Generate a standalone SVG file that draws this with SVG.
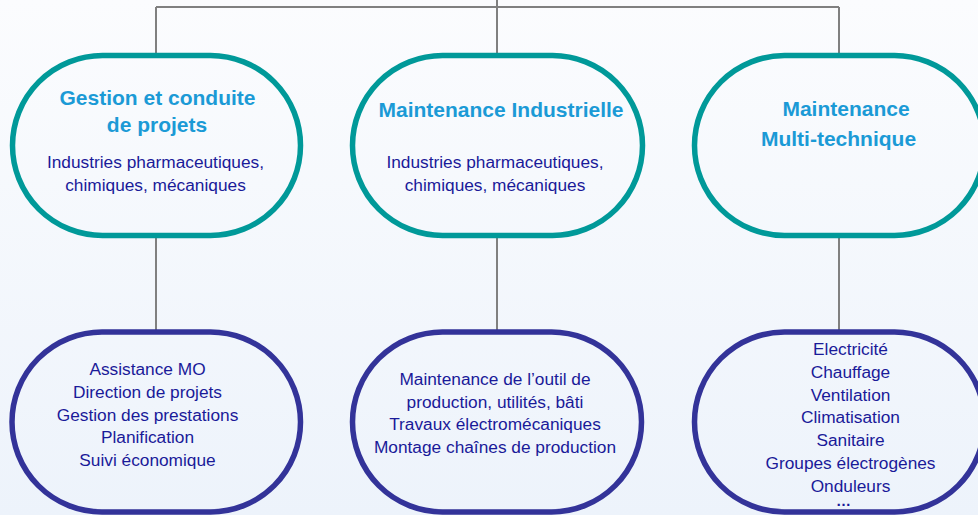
<svg xmlns="http://www.w3.org/2000/svg" width="978" height="515" viewBox="0 0 978 515">
<defs>
<linearGradient id="bg" x1="0" y1="0" x2="0" y2="1">
<stop offset="0" stop-color="#FBFCFE"/>
<stop offset="1" stop-color="#EDF3FB"/>
</linearGradient>
<style>
.top{fill:none;stroke:#009999;stroke-width:5.5}
.bot{fill:none;stroke:#333399;stroke-width:5.5}
.con{fill:none;stroke:#808080;stroke-width:2}
.ttl{font-family:"Liberation Sans",Arial,sans-serif;font-weight:bold;font-size:21px;fill:#1B9AD6;text-anchor:middle}
.txt{font-family:"Liberation Sans",Arial,sans-serif;font-size:17.3px;fill:#1A1A99;text-anchor:middle}
</style>
</defs>
<rect x="0" y="0" width="978" height="515" fill="url(#bg)"/>
<g id="connectors">
<path class="con" d="M497,0 V7 M156,7 H839 M156,7 V53 M497,7 V53 M839,7 V53"/>
<path class="con" d="M156,238 V330 M497,238 V330 M839,238 V330"/>
</g>
<g id="n1">
<rect class="top" x="12.5" y="55.5" width="288" height="180" rx="90" ry="90"/>
<text class="ttl" x="157.5" y="105">Gestion et conduite</text>
<text class="ttl" x="157" y="132">de projets</text>
<text class="txt" x="155.5" y="168">Industries pharmaceutiques,</text>
<text class="txt" x="155.5" y="191">chimiques, mécaniques</text>
</g>
<g id="n2">
<rect class="top" x="352.5" y="55.5" width="290" height="180" rx="90" ry="90"/>
<text class="ttl" x="501" y="117">Maintenance Industrielle</text>
<text class="txt" x="495" y="168">Industries pharmaceutiques,</text>
<text class="txt" x="495" y="191">chimiques, mécaniques</text>
</g>
<g id="n3">
<rect class="top" x="694.5" y="55.5" width="290" height="180" rx="90" ry="90"/>
<text class="ttl" x="846" y="116">Maintenance</text>
<text class="ttl" x="838.5" y="146">Multi-technique</text>
</g>
<g id="n4">
<rect class="bot" x="12" y="332" width="288.5" height="180" rx="90" ry="90"/>
<text class="txt" x="147.5" y="375">Assistance MO</text>
<text class="txt" x="147.5" y="397.8">Direction de projets</text>
<text class="txt" x="147.5" y="420.6">Gestion des prestations</text>
<text class="txt" x="147.5" y="443.4">Planification</text>
<text class="txt" x="147.5" y="466.2">Suivi économique</text>
</g>
<g id="n5">
<rect class="bot" x="352.5" y="332" width="289" height="180" rx="90" ry="90"/>
<text class="txt" x="495" y="385">Maintenance de l’outil de</text>
<text class="txt" x="495" y="407.7">production, utilités, bâti</text>
<text class="txt" x="495" y="430.4">Travaux électromécaniques</text>
<text class="txt" x="495" y="453.1">Montage chaînes de production</text>
</g>
<g id="n6">
<rect class="bot" x="694.5" y="332" width="290" height="180" rx="90" ry="90"/>
<text class="txt" x="850.5" y="355">Electricité</text>
<text class="txt" x="850.5" y="377.8">Chauffage</text>
<text class="txt" x="850.5" y="400.6">Ventilation</text>
<text class="txt" x="850.5" y="423.4">Climatisation</text>
<text class="txt" x="850.5" y="446.2">Sanitaire</text>
<text class="txt" x="850.5" y="469">Groupes électrogènes</text>
<text class="txt" x="850.5" y="491.8">Onduleurs</text>
<text class="txt" x="843.5" y="506" style="font-weight:bold;font-size:15px">…</text>
</g>
</svg>
